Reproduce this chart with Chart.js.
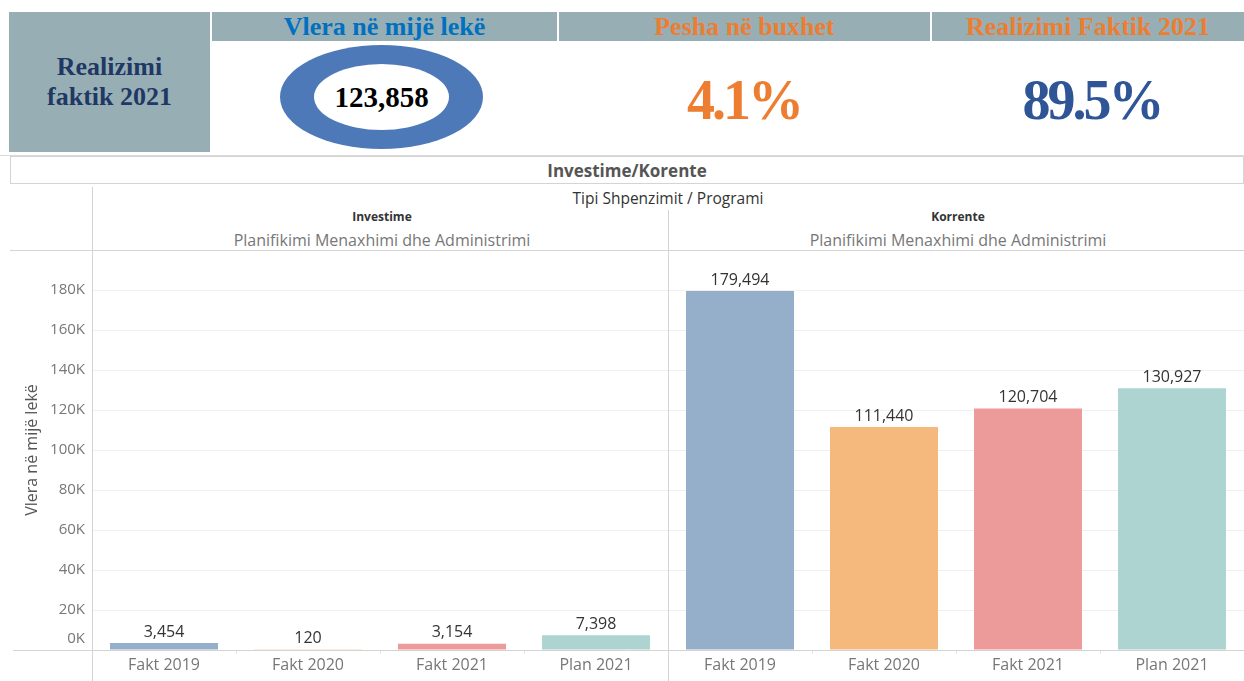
<!DOCTYPE html>
<html>
<head>
<meta charset="utf-8">
<script src="https://cdn.jsdelivr.net/npm/chart.js@4"></script>
<style>
  html,body{margin:0;padding:0;background:#fff;width:1244px;height:681px;overflow:hidden;}
  .abs{position:absolute;box-sizing:border-box;}
  .hdr{background:#97AFB4;display:flex;align-items:center;justify-content:center;font-family:"Liberation Serif","Times New Roman",serif;font-weight:bold;font-size:26px;line-height:1;}
  .serif{font-family:"Liberation Serif","Times New Roman",serif;font-weight:bold;}
  .sans{font-family:"Open Sans","Noto Sans",sans-serif;}
  .ctr{display:flex;align-items:center;justify-content:center;}
</style>
</head>
<body>
<div class="abs hdr" style="left:9px;top:12px;width:201px;height:140px;color:#1F3864;text-align:center;line-height:30px;">Realizimi<br>faktik 2021</div>
<div class="abs hdr" style="left:212px;top:12px;width:345px;height:29px;color:#0070C0;">Vlera në mijë lekë</div>
<div class="abs hdr" style="left:559px;top:12px;width:371px;height:29px;color:#ED7D31;">Pesha në buxhet</div>
<div class="abs hdr" style="left:932px;top:12px;width:312px;height:29px;color:#ED7D31;">Realizimi Faktik 2021</div>
<div class="abs" style="left:280px;top:45px;width:203px;height:104px;border-radius:50%;background:#4E79B8;"></div>
<div class="abs ctr serif" style="left:314px;top:64px;width:135px;height:66px;border-radius:50%;background:#fff;font-size:29px;color:#000;">123,858</div>
<div class="abs ctr serif" style="left:600px;top:60px;width:288px;height:80px;font-size:56px;letter-spacing:-3px;color:#ED7D31;">4.1%</div>
<div class="abs ctr serif" style="left:950px;top:60px;width:284px;height:80px;font-size:56px;letter-spacing:-3px;color:#2F5597;">89.5%</div>
<div class="abs" style="left:0;top:155px;width:1244px;height:1px;background:#d9d9d9;"></div>
<div class="abs ctr sans" style="left:10px;top:156px;width:1234px;height:28px;border:1px solid #d4d4d4;font-size:17px;font-weight:bold;color:#555;">Investime/Korente</div>
<div class="abs sans" style="left:92px;top:187px;width:1152px;text-align:center;font-size:15.5px;color:#333;">Tipi Shpenzimit / Programi</div>
<div class="abs sans" style="left:92px;top:208px;width:580px;text-align:center;font-size:12px;font-weight:bold;color:#333;">Investime</div>
<div class="abs sans" style="left:92px;top:229px;width:580px;text-align:center;font-size:16px;color:#777;">Planifikimi Menaxhimi dhe Administrimi</div>
<div class="abs sans" style="left:672px;top:208px;width:572px;text-align:center;font-size:12px;font-weight:bold;color:#333;">Korrente</div>
<div class="abs sans" style="left:672px;top:229px;width:572px;text-align:center;font-size:16px;color:#777;">Planifikimi Menaxhimi dhe Administrimi</div>
<div class="abs" style="left:0;top:187px;width:1244px;height:494px;">
  <canvas id="c" width="1244" height="494"></canvas>
</div>
<script>
const categories = ['Fakt 2019', 'Fakt 2020', 'Fakt 2021', 'Plan 2021'];
const investime = [3454, 120, 3154, 7398];
const korrente = [179494, 111440, 120704, 130927];
const barColors = ['#95AFCA', '#F5B97D', '#ED9A9B', '#ADD4D0'];
const yTickValues = [0, 20000, 40000, 60000, 80000, 100000, 120000, 140000, 160000, 180000];
const yTickLabels = ['0K', '20K', '40K', '60K', '80K', '100K', '120K', '140K', '160K', '180K'];
const yTitle = 'Vlera në mijë lekë';

const labels = categories.concat(categories);
const values = investime.concat(korrente);
const colors = barColors.concat(barColors);
const FONT = '"Open Sans","Noto Sans",sans-serif';

const overlay = {
  id: 'overlay',
  beforeDatasetsDraw(chart) {
    const ctx = chart.ctx, x = chart.scales.x, y = chart.scales.y, a = chart.chartArea;
    ctx.save();
    ctx.strokeStyle = '#d4d4d4';
    ctx.lineWidth = 1;
    ctx.beginPath(); ctx.moveTo(92.5, 0); ctx.lineTo(92.5, chart.height); ctx.stroke();
    const sep = Math.round((x.getPixelForValue(3) + x.getPixelForValue(4)) / 2) + 0.5;
    ctx.beginPath(); ctx.moveTo(sep, 23); ctx.lineTo(sep, chart.height); ctx.stroke();
    ctx.beginPath(); ctx.moveTo(10, a.top + 0.5); ctx.lineTo(chart.width, a.top + 0.5); ctx.stroke();
    const by = Math.round(y.getPixelForValue(0)) + 0.5;
    ctx.beginPath(); ctx.moveTo(13, by); ctx.lineTo(chart.width, by); ctx.stroke();
    ctx.fillStyle = '#777';
    ctx.font = '15px ' + FONT;
    ctx.textAlign = 'right';
    ctx.textBaseline = 'middle';
    yTickValues.forEach((v, i) => {
      let py = y.getPixelForValue(v);
      if (v === 0) py -= 11;
      ctx.fillText(yTickLabels[i], 85, py);
    });
    ctx.save();
    ctx.translate(32, (a.top + a.bottom) / 2);
    ctx.rotate(-Math.PI / 2);
    ctx.textAlign = 'center';
    ctx.textBaseline = 'middle';
    ctx.fillStyle = '#555';
    ctx.font = '16px ' + FONT;
    ctx.fillText(yTitle, 0, 0);
    ctx.restore();
    ctx.restore();
  },
  afterDatasetsDraw(chart) {
    const ctx = chart.ctx;
    const meta = chart.getDatasetMeta(0);
    ctx.save();
    ctx.fillStyle = '#333';
    ctx.font = '16px ' + FONT;
    ctx.textAlign = 'center';
    ctx.textBaseline = 'bottom';
    meta.data.forEach((bar, i) => {
      ctx.fillText(values[i].toLocaleString('en-US'), bar.x, bar.y - 3);
    });
    ctx.restore();
  }
};

new Chart(document.getElementById('c'), {
  type: 'bar',
  data: {
    labels: labels,
    datasets: [{
      data: values,
      backgroundColor: colors,
      borderWidth: 0,
      categoryPercentage: 1,
      barPercentage: 0.75
    }]
  },
  options: {
    responsive: false,
    animation: false,
    events: [],
    layout: { padding: { left: 10, top: 63, right: 0, bottom: 0 } },
    plugins: { legend: { display: false }, tooltip: { enabled: false } },
    scales: {
      x: {
        grid: {
          offset: true,
          drawOnChartArea: false,
          tickLength: 4,
          color: '#e6e6e6'
        },
        border: { display: false },
        ticks: { color: '#777', font: { size: 16, family: FONT }, padding: 2, maxRotation: 0 },
        afterFit(scale) { scale.height = 31; }
      },
      y: {
        min: 0,
        max: 200000,
        ticks: { stepSize: 20000, display: false },
        grid: {
          drawTicks: false,
          color: (c) => (c.tick && (c.tick.value === 0 || c.tick.value === 200000)) ? 'rgba(0,0,0,0)' : '#f0f0f0'
        },
        border: { display: false },
        afterFit(scale) { scale.width = 82; }
      }
    }
  },
  plugins: [overlay]
});
</script>
</body>
</html>
